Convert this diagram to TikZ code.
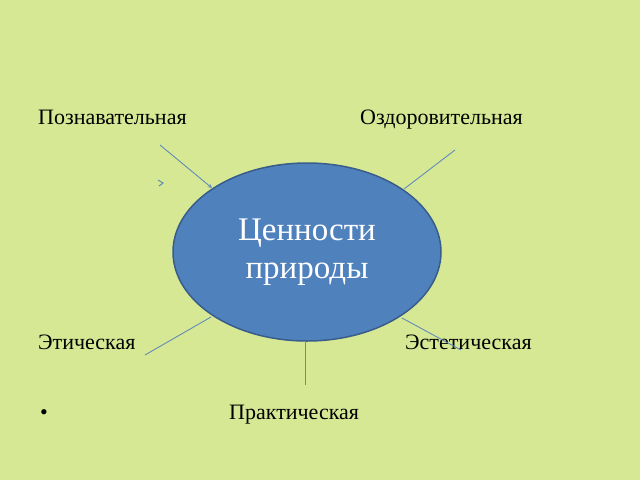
\documentclass[tikz,border=0pt]{standalone}
\usepackage{fontspec}
\setmainfont{Liberation Serif}
\usetikzlibrary{shapes.geometric,arrows}
\definecolor{bgcolor}{RGB}{215,232,148}
\definecolor{ellfill}{RGB}{79,129,189}
\definecolor{ellline}{RGB}{56,93,138}
\definecolor{linecolor}{RGB}{98,139,184}
\tikzset{
  label/.style={anchor=base west,font=\fontsize{22}{26}\selectfont,inner sep=0pt},
  link/.style={draw=linecolor,line width=0.9pt}
}
\begin{document}
\begin{tikzpicture}[x=1pt,y=-1pt]
\fill[bgcolor] (0,0) rectangle (640,480);
\useasboundingbox (0,0) rectangle (640,480);
% centre
\node[ellipse,fill=ellfill,draw=ellline,line width=1.5pt,minimum width=268pt,minimum height=178pt,
  inner sep=0pt,text=white,align=center,font=\fontsize{33}{38}\selectfont] (val) at (307,252) {Ценности\\природы};
% labels
\node[label] (cog) at (38,124) {Познавательная};
\node[label] (hea) at (360,124) {Оздоровительная};
\node[label] (eth) at (38,349) {Этическая};
\node[label] (aes) at (405,349) {Эстетическая};
\node[label] (pra) at (229,419) {Практическая};
\node[label] (bul) at (40,419) {•};
% connectors
\coordinate (c1) at (160,145); \coordinate (e1) at (212,188);
\coordinate (c2) at (455,150); \coordinate (e2) at (404,189);
\coordinate (c3) at (145,355); \coordinate (e3) at (211,317);
\coordinate (c4) at (461,350); \coordinate (e4) at (402,318);
\coordinate (c5) at (305,385); \coordinate (e5) at (305,341);
\draw[link,-stealth] (c1) -- (e1);
\draw[link] (c2) -- (e2);
\draw[link] (c3) -- (e3);
\draw[link] (c4) -- (e4);
\draw[link] (c5) -- (e5);
\coordinate (m) at (158,180);
\draw[linecolor,line width=1pt] (m) -- ++(5,3) -- ++(-4,3);
\end{tikzpicture}
\end{document}
